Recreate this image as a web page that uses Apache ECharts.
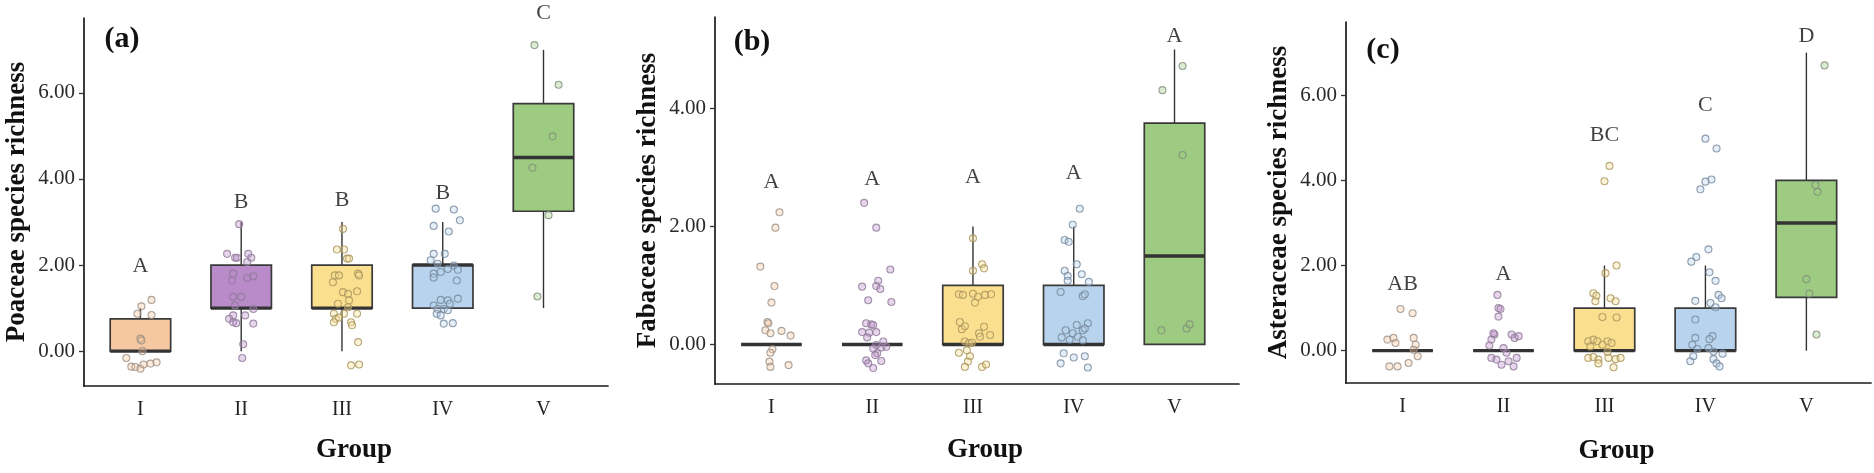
<!DOCTYPE html>
<html>
<head>
<meta charset="utf-8">
<script src="https://cdn.jsdelivr.net/npm/echarts@6/dist/echarts.min.js"></script>
<style>
html,body{margin:0;padding:0;background:#fff;}
#main{width:1874px;height:473px;}
</style>
</head>
<body>
<div id="main"></div>
<script>
// ---------------- data ----------------
const groups = ['I', 'II', 'III', 'IV', 'V'];
const yTicksA = [0, 2, 4, 6];
const yTicksB = [0, 2, 4];
const yTicksC = [0, 2, 4, 6];

// box stats: [min, q1, median, q3, max]
const poaceaeBox = [[0, 0, 0, 0.75, 1], [0, 1, 1, 2, 3], [0, 1, 1, 2, 3], [1, 1, 2, 2, 3], [1, 3.25, 4.5, 5.75, 7]];
const fabaceaeBox = [[0, 0, 0, 0, 0], [0, 0, 0, 0, 0], [0, 0, 0, 1, 2], [0, 0, 0, 1, 2], [0, 0, 1.5, 3.75, 5]];
const asteraceaeBox = [[0, 0, 0, 0, 0], [0, 0, 0, 0, 0], [0, 0, 0, 1, 2], [0, 0, 0, 1, 2], [0, 1.25, 3, 4, 7]];

// significance letters and their heights
const poaceaeLetters = ['A', 'B', 'B', 'B', 'C'];
const poaceaeLetterY = [1.97, 3.47, 3.50, 3.67, 7.85];
const fabaceaeLetters = ['A', 'A', 'A', 'A', 'A'];
const fabaceaeLetterY = [2.75, 2.80, 2.84, 2.91, 5.22];
const asteraceaeLetters = ['AB', 'A', 'BC', 'C', 'D'];
const asteraceaeLetterY = [1.55, 1.80, 5.06, 5.77, 7.38];

// jittered observations: [x offset from group, richness]
const poaceaeI = [[0.11,1.19],[0.01,1.04],[-0.03,0.87],[0.11,0.84],[0.0,0.29],[0.01,0.25],[0.02,0.0],[-0.14,-0.16],[-0.09,-0.36],[-0.05,-0.37],[0.0,-0.41],[0.03,-0.31],[0.1,-0.29],[0.16,-0.26]];
const poaceaeII = [[-0.02,2.95],[-0.14,2.26],[-0.06,2.17],[-0.04,2.17],[0.07,2.26],[0.1,2.17],[0.06,2.07],[-0.08,1.8],[-0.09,1.64],[0.06,1.7],[0.12,1.74],[-0.08,1.26],[0.0,1.26],[-0.06,1.06],[0.12,0.98],[-0.08,0.83],[0.04,0.83],[-0.12,0.75],[-0.08,0.67],[-0.05,0.65],[0.12,0.64],[0.02,0.16],[0.01,-0.16]];
const poaceaeIII = [[0.01,2.84],[-0.05,2.36],[0.02,2.36],[0.05,2.15],[0.07,2.15],[-0.07,1.76],[-0.03,1.76],[-0.09,1.6],[0.16,1.8],[0.17,1.76],[0.01,1.37],[0.06,1.33],[0.15,1.39],[-0.04,1.1],[0.07,1.18],[0.06,1.02],[-0.08,0.87],[0.02,0.87],[0.15,0.87],[-0.06,0.75],[-0.03,0.78],[-0.08,0.67],[0.09,0.67],[0.1,0.6],[0.16,0.21],[0.09,-0.33],[0.17,-0.31]];
const poaceaeIV = [[-0.07,3.31],[0.11,3.29],[0.17,3.04],[-0.09,2.91],[0.06,2.78],[-0.09,2.26],[0.02,2.26],[-0.12,2.11],[-0.05,2.03],[0.11,1.99],[0.15,1.89],[0.05,1.91],[-0.09,1.8],[-0.02,1.84],[-0.09,1.71],[0.14,1.64],[0.15,1.22],[-0.02,1.19],[0.05,1.18],[-0.09,1.06],[0.07,1.1],[-0.05,0.98],[0.01,0.98],[0.05,0.95],[-0.06,0.87],[-0.02,0.83],[0.01,0.64],[0.1,0.65]];
const poaceaeV = [[-0.09,7.11],[0.15,6.19],[0.09,4.99],[-0.11,4.26],[0.05,3.16],[-0.06,1.27]];

const fabaceaeI = [[0.08,2.24],[0.04,1.98],[-0.11,1.32],[0.03,0.99],[0.0,0.71],[-0.04,0.38],[-0.03,0.36],[-0.06,0.24],[-0.01,0.19],[0.1,0.23],[0.19,0.15],[0.01,-0.08],[-0.01,-0.14],[-0.02,-0.29],[-0.01,-0.38],[0.17,-0.35]];
const fabaceaeII = [[-0.08,2.4],[0.04,1.98],[0.18,1.27],[-0.1,0.98],[0.06,1.08],[0.04,0.99],[0.08,0.94],[-0.04,0.75],[0.19,0.72],[-0.06,0.36],[-0.01,0.34],[0.01,0.33],[-0.1,0.21],[-0.03,0.2],[0.04,0.21],[-0.05,0.12],[0.11,0.05],[0.04,-0.01],[0.01,-0.07],[0.09,-0.05],[0.14,-0.04],[0.05,-0.15],[0.03,-0.18],[-0.06,-0.27],[0.09,-0.28],[-0.04,-0.32],[0.01,-0.4]];
const fabaceaeIII = [[0.0,1.8],[0.0,1.25],[0.09,1.36],[0.11,1.29],[-0.14,0.85],[-0.1,0.84],[0.0,0.86],[0.02,0.71],[0.05,0.81],[0.12,0.84],[0.18,0.85],[-0.13,0.38],[-0.11,0.26],[-0.08,0.31],[0.11,0.3],[0.06,0.19],[0.17,0.16],[0.07,0.13],[-0.08,0.05],[-0.04,0.02],[-0.01,0.03],[-0.14,-0.14],[-0.06,-0.1],[-0.03,-0.2],[-0.05,-0.29],[-0.08,-0.38],[0.09,-0.38],[0.13,-0.34]];
const fabaceaeIV = [[0.06,2.3],[-0.01,2.03],[-0.09,1.77],[-0.05,1.74],[-0.09,1.25],[0.03,1.36],[-0.06,1.16],[0.08,1.19],[-0.06,1.08],[0.15,1.06],[-0.13,0.89],[0.09,0.82],[0.11,0.85],[0.14,0.36],[0.03,0.33],[0.09,0.24],[0.11,0.27],[-0.08,0.24],[-0.01,0.19],[-0.12,0.12],[0.04,0.13],[-0.04,0.08],[0.09,0.07],[-0.1,-0.15],[0.0,-0.22],[0.11,-0.2],[-0.13,-0.32],[0.14,-0.39]];
const fabaceaeV = [[0.08,4.72],[-0.12,4.31],[0.08,3.21],[-0.13,0.24],[0.12,0.27],[0.15,0.34]];

const asteraceaeI = [[-0.02,0.98],[0.1,0.88],[-0.15,0.26],[-0.09,0.3],[-0.07,0.18],[0.11,0.3],[0.13,0.14],[0.11,0.02],[0.15,-0.13],[0.06,-0.29],[-0.13,-0.37],[-0.05,-0.37]];
const asteraceaeII = [[-0.06,1.31],[-0.05,1.0],[-0.03,0.98],[-0.05,0.8],[-0.09,0.38],[-0.12,0.26],[-0.14,0.12],[0.08,0.38],[0.11,0.3],[0.0,0.06],[-0.12,-0.17],[-0.07,-0.21],[-0.02,-0.33],[0.05,-0.25],[0.1,-0.37],[0.13,-0.17],[0.03,-0.05],[0.15,0.34],[-0.1,0.41]];
const asteraceaeIII = [[0.05,4.34],[0.0,3.98],[0.12,2.0],[0.01,1.82],[-0.11,1.35],[-0.08,1.29],[-0.09,1.16],[0.06,1.23],[0.11,1.16],[-0.02,0.79],[0.12,0.78],[-0.16,0.22],[-0.11,0.26],[-0.07,0.22],[0.03,0.22],[0.07,0.18],[-0.14,0.1],[-0.02,0.14],[0.03,-0.03],[-0.16,-0.17],[-0.11,-0.15],[-0.06,-0.21],[0.04,-0.17],[0.11,-0.2],[0.16,-0.17],[-0.06,-0.3],[0.09,-0.39]];
const asteraceaeIV = [[0.0,4.98],[0.11,4.75],[0.06,4.02],[0.0,3.97],[-0.05,3.79],[0.03,2.38],[-0.09,2.2],[-0.14,2.09],[0.04,1.84],[0.1,1.64],[0.13,1.31],[0.16,1.23],[-0.1,1.17],[0.05,1.12],[0.1,1.02],[-0.1,0.73],[0.07,0.34],[0.04,0.27],[-0.1,0.3],[-0.13,0.14],[-0.08,0.04],[0.03,0.06],[0.08,-0.02],[0.17,-0.07],[-0.12,-0.13],[-0.15,-0.25],[0.08,-0.2],[0.11,-0.3],[0.14,-0.37]];
const asteraceaeV = [[0.18,6.7],[0.09,3.89],[0.11,3.73],[0.0,1.68],[0.03,1.34],[0.1,0.38]];

// ---------------- style ----------------
const FONT = '"Liberation Serif","DejaVu Serif","Times New Roman",serif';
const boxFill = ['#F6C8A1', '#B98BC8', '#FADF8F', '#B8D3ED', '#9ECB82'];
const ptFill = ['rgba(246,200,161,0.45)', 'rgba(185,139,200,0.45)', 'rgba(250,223,143,0.45)', 'rgba(184,211,237,0.45)', 'rgba(158,203,130,0.45)'];
const ptStroke = ['#9a8f84', '#8f7a99', '#a8955e', '#76879a', '#7f8c7a'];

const panels = [
  { grid: { left: 84, top: 18, width: 524, height: 368 }, ymin: -0.81, ymax: 7.74, ticks: yTicksA,
    yName: 'Poaceae species richness', box: poaceaeBox, pts: [poaceaeI, poaceaeII, poaceaeIII, poaceaeIV, poaceaeV],
    letters: poaceaeLetters, letterY: poaceaeLetterY, tag: '(a)', tagX: 122, tagY: 39, gapX: 51 },
  { grid: { left: 715, top: 17, width: 524, height: 367 }, ymin: -0.67, ymax: 5.55, ticks: yTicksB,
    yName: 'Fabaceae species richness', box: fabaceaeBox, pts: [fabaceaeI, fabaceaeII, fabaceaeIII, fabaceaeIV, fabaceaeV],
    letters: fabaceaeLetters, letterY: fabaceaeLetterY, tag: '(b)', tagX: 752, tagY: 42, gapX: 53 },
  { grid: { left: 1346, top: 22, width: 525, height: 361 }, ymin: -0.76, ymax: 7.72, ticks: yTicksC,
    yName: 'Asteraceae species richness', box: asteraceaeBox, pts: [asteraceaeI, asteraceaeII, asteraceaeIII, asteraceaeIV, asteraceaeV],
    letters: asteraceaeLetters, letterY: asteraceaeLetterY, tag: '(c)', tagX: 1383, tagY: 50, gapX: 55 }
];

const BOX_W = 0.6;

function renderBox(params, api) {
  const x = api.value(0);
  const lo = api.coord([x, api.value(1)]);
  const q1 = api.coord([x, api.value(2)]);
  const md = api.coord([x, api.value(3)]);
  const q3 = api.coord([x, api.value(4)]);
  const hi = api.coord([x, api.value(5)]);
  const half = api.size([BOX_W, 0])[0] / 2;
  const fill = boxFill[params.dataIndex];
  return {
    type: 'group',
    children: [
      { type: 'line', shape: { x1: lo[0], y1: lo[1], x2: q1[0], y2: q1[1] }, style: { stroke: '#333', lineWidth: 1.4 } },
      { type: 'line', shape: { x1: q3[0], y1: q3[1], x2: hi[0], y2: hi[1] }, style: { stroke: '#333', lineWidth: 1.4 } },
      { type: 'rect', shape: { x: q3[0] - half, y: q3[1], width: half * 2, height: q1[1] - q3[1] },
        style: { fill: fill, stroke: '#3a3a3a', lineWidth: 1.7 } },
      { type: 'line', shape: { x1: md[0] - half, y1: md[1], x2: md[0] + half, y2: md[1] },
        style: { stroke: '#333', lineWidth: 3.4 } }
    ]
  };
}

const grids = [], xAxes = [], yAxes = [], series = [], graphics = [];
panels.forEach((p, i) => {
  grids.push(Object.assign({ containLabel: false, outerBoundsMode: 'none' }, p.grid));
  xAxes.push({
    gridIndex: i, type: 'value', min: 0.44, max: 5.64,
    axisLine: { show: true, onZero: false, lineStyle: { color: '#1a1a1a', width: 1.7 } },
    axisTick: { show: false },
    splitLine: { show: false },
    axisLabel: { customValues: [1, 2, 3, 4, 5], formatter: v => groups[Math.round(v) - 1] || '',
      fontFamily: FONT, fontSize: 20, color: '#222', margin: 14 },
    name: 'Group', nameLocation: 'middle', nameGap: p.gapX, nameMoveOverlap: false,
    nameTextStyle: { fontFamily: FONT, fontSize: 27, fontWeight: 'bold', color: '#111', padding: [0, 0, 0, 16] }
  });
  yAxes.push({
    gridIndex: i, type: 'value', min: p.ymin, max: p.ymax,
    axisLine: { show: true, onZero: false, lineStyle: { color: '#1a1a1a', width: 1.7 } },
    axisTick: { show: true, customValues: p.ticks, length: 5, lineStyle: { color: '#333', width: 1.3 } },
    splitLine: { show: false },
    axisLabel: { customValues: p.ticks, formatter: v => Number(v).toFixed(2),
      fontFamily: FONT, fontSize: 21, color: '#2a2a2a', margin: 9 },
    name: p.yName, nameLocation: 'middle', nameGap: 53, nameMoveOverlap: false,
    nameTextStyle: { fontFamily: FONT, fontSize: 27, fontWeight: 'bold', color: '#111' }
  });
  series.push({
    type: 'custom', xAxisIndex: i, yAxisIndex: i, silent: true, z: 2, clip: false,
    renderItem: renderBox,
    encode: { x: 0, y: [1, 2, 3, 4, 5] },
    data: p.box.map((b, k) => [k + 1].concat(b))
  });
  const pts = [];
  p.pts.forEach((arr, k) => {
    arr.forEach(d => pts.push({
      value: [k + 1 + d[0], d[1]],
      itemStyle: { color: ptFill[k], borderColor: ptStroke[k], borderWidth: 1.1 }
    }));
  });
  series.push({
    type: 'scatter', xAxisIndex: i, yAxisIndex: i, silent: true, z: 3,
    symbol: 'circle', symbolSize: 7, data: pts
  });
  series.push({
    type: 'scatter', xAxisIndex: i, yAxisIndex: i, silent: true, z: 4, clip: false,
    symbolSize: 1, itemStyle: { color: 'rgba(0,0,0,0)' },
    data: p.letters.map((t, k) => ({ value: [k + 1, p.letterY[k]], name: t })),
    label: { show: true, position: 'inside', formatter: '{b}', fontFamily: FONT, fontSize: 22, color: '#111' }
  });
  graphics.push({
    type: 'text', x: p.tagX, y: p.tagY, silent: true,
    style: { text: p.tag, font: 'bold 30px "Liberation Serif"', fill: '#111', align: 'center', verticalAlign: 'middle' }
  });
});

const chart = echarts.init(document.getElementById('main'), null, { renderer: 'canvas' });
chart.setOption({
  backgroundColor: '#ffffff',
  animation: false,
  grid: grids,
  xAxis: xAxes,
  yAxis: yAxes,
  series: series,
  graphic: graphics
});
</script>
</body>
</html>
